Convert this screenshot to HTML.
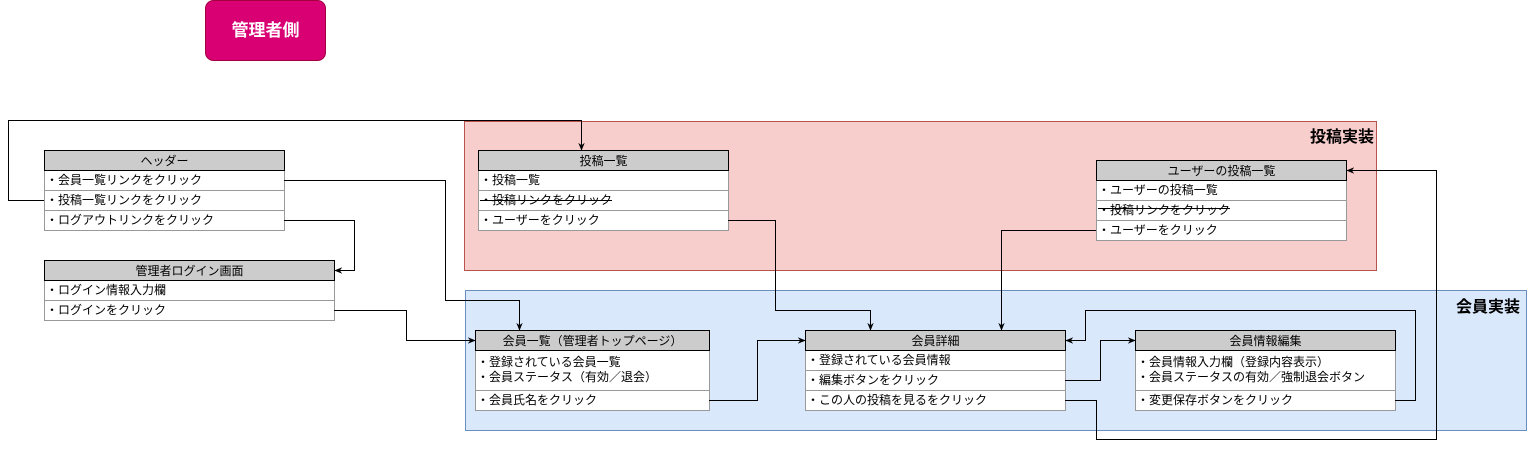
<!DOCTYPE html>
<html><head><meta charset="utf-8"><style>
html,body{margin:0;padding:0;background:#fff;}
svg{display:block;font-family:"Liberation Sans","Noto Sans CJK JP",sans-serif;}
.h{fill:#cccccc;stroke:#000;stroke-width:1}
.r{fill:#fff;stroke:#999;stroke-width:1}
.t{font-size:12px;fill:#000}
.l{fill:none;stroke:#000;stroke-width:1}
</style></head><body>
<svg width="1528" height="449" viewBox="0 0 1528 449" xmlns="http://www.w3.org/2000/svg">
<defs><marker id="a" viewBox="0 0 10 10" refX="9" refY="5" markerWidth="8" markerHeight="8" orient="auto" markerUnits="userSpaceOnUse"><path d="M0,1 L10,5 L0,9 L3,5 z" fill="#000"/></marker></defs>
<rect x="205.5" y="0.5" width="120" height="60" rx="8" fill="#d80073" stroke="#a50040"/>
<text x="265.5" y="36" text-anchor="middle" font-size="17" font-weight="bold" fill="#fff">管理者側</text>

<rect x="464.5" y="121.5" width="912" height="149" fill="#f8cecc" stroke="#b85450"/>
<text x="1374" y="142" text-anchor="end" font-size="16" font-weight="bold">投稿実装</text>
<rect x="465.5" y="290.5" width="1061" height="140" fill="#dae8fc" stroke="#6c8ebf"/>
<text x="1520" y="312" text-anchor="end" font-size="16" font-weight="bold">会員実装</text>

<!-- header -->
<rect class="r" x="44.5" y="170.5" width="240" height="20"/><rect class="r" x="44.5" y="190.5" width="240" height="20"/><rect class="r" x="44.5" y="210.5" width="240" height="20"/>
<rect class="h" x="44.5" y="150.5" width="240" height="20"/>
<text class="t" x="164.5" y="165" text-anchor="middle">ヘッダー</text>
<text class="t" x="46" y="184">・会員一覧リンクをクリック</text>
<text class="t" x="46" y="204">・投稿一覧リンクをクリック</text>
<text class="t" x="46" y="224">・ログアウトリンクをクリック</text>

<!-- login -->
<rect class="r" x="44.5" y="280.5" width="290" height="20"/><rect class="r" x="44.5" y="300.5" width="290" height="20"/>
<rect class="h" x="44.5" y="260.5" width="290" height="20"/>
<text class="t" x="189.5" y="275" text-anchor="middle">管理者ログイン画面</text>
<text class="t" x="46" y="294">・ログイン情報入力欄</text>
<text class="t" x="46" y="314">・ログインをクリック</text>

<!-- 投稿一覧 -->
<rect class="r" x="478.5" y="170.5" width="250" height="20"/><rect class="r" x="478.5" y="190.5" width="250" height="20"/><rect class="r" x="478.5" y="210.5" width="250" height="20"/>
<rect class="h" x="478.5" y="150.5" width="250" height="20"/>
<text class="t" x="603.5" y="165" text-anchor="middle">投稿一覧</text>
<text class="t" x="480" y="184">・投稿一覧</text>
<text class="t" x="480" y="204">・投稿リンクをクリック</text>
<line x1="480" y1="200.5" x2="612" y2="200.5" stroke="#000"/>
<text class="t" x="480" y="224">・ユーザーをクリック</text>

<!-- ユーザーの投稿一覧 -->
<rect class="r" x="1096.5" y="180.5" width="250" height="20"/><rect class="r" x="1096.5" y="200.5" width="250" height="20"/><rect class="r" x="1096.5" y="220.5" width="250" height="20"/>
<rect class="h" x="1096.5" y="160.5" width="250" height="20"/>
<text class="t" x="1221.5" y="175" text-anchor="middle">ユーザーの投稿一覧</text>
<text class="t" x="1098" y="194">・ユーザーの投稿一覧</text>
<text class="t" x="1098" y="214">・投稿リンクをクリック</text>
<line x1="1098" y1="208.5" x2="1230" y2="208.5" stroke="#000"/>
<text class="t" x="1098" y="234">・ユーザーをクリック</text>

<!-- 会員一覧 -->
<rect class="r" x="475.5" y="350.5" width="234" height="40"/><rect class="r" x="475.5" y="390.5" width="234" height="20"/>
<rect class="h" x="475.5" y="330.5" width="234" height="20"/>
<text class="t" x="592.5" y="345" text-anchor="middle">会員一覧（管理者トップページ）</text>
<text class="t" x="477" y="366">・登録されている会員一覧</text>
<text class="t" x="477" y="381">・会員ステータス（有効／退会）</text>
<text class="t" x="477" y="404">・会員氏名をクリック</text>

<!-- 会員詳細 -->
<rect class="r" x="805.5" y="350.5" width="260" height="20"/><rect class="r" x="805.5" y="370.5" width="260" height="20"/><rect class="r" x="805.5" y="390.5" width="260" height="20"/>
<rect class="h" x="805.5" y="330.5" width="260" height="20"/>
<text class="t" x="935.5" y="345" text-anchor="middle">会員詳細</text>
<text class="t" x="807" y="364">・登録されている会員情報</text>
<text class="t" x="807" y="384">・編集ボタンをクリック</text>
<text class="t" x="807" y="404">・この人の投稿を見るをクリック</text>

<!-- 会員情報編集 -->
<rect class="r" x="1135.5" y="350.5" width="260" height="40"/><rect class="r" x="1135.5" y="390.5" width="260" height="20"/>
<rect class="h" x="1135.5" y="330.5" width="260" height="20"/>
<text class="t" x="1265.5" y="345" text-anchor="middle">会員情報編集</text>
<text class="t" x="1137" y="366">・会員情報入力欄（登録内容表示）</text>
<text class="t" x="1137" y="381">・会員ステータスの有効／強制退会ボタン</text>
<text class="t" x="1137" y="404">・変更保存ボタンをクリック</text>

<!-- connectors -->
<path class="l" d="M44,200.5 H8.5 V120.5 H581.5 V150" marker-end="url(#a)"/>
<path class="l" d="M284,180.5 H445.5 V300.5 H519.5 V330" marker-end="url(#a)"/>
<path class="l" d="M284,220.5 H354.5 V270.5 H335" marker-end="url(#a)"/>
<path class="l" d="M334,310.5 H406.5 V340.5 H475" marker-end="url(#a)"/>
<path class="l" d="M728,220.5 H775.5 V310.5 H870.5 V330" marker-end="url(#a)"/>
<path class="l" d="M1096,230.5 H1001.5 V330" marker-end="url(#a)"/>
<path class="l" d="M709,400.5 H757.5 V340.5 H805" marker-end="url(#a)"/>
<path class="l" d="M1065,380.5 H1100.5 V340.5 H1135" marker-end="url(#a)"/>
<path class="l" d="M1065,400.5 H1096.5 V439.5 H1436.5 V170.5 H1347" marker-end="url(#a)"/>
<path class="l" d="M1395,400.5 H1415.5 V310.5 H1085.5 V340.5 H1066" marker-end="url(#a)"/>
</svg>
</body></html>
